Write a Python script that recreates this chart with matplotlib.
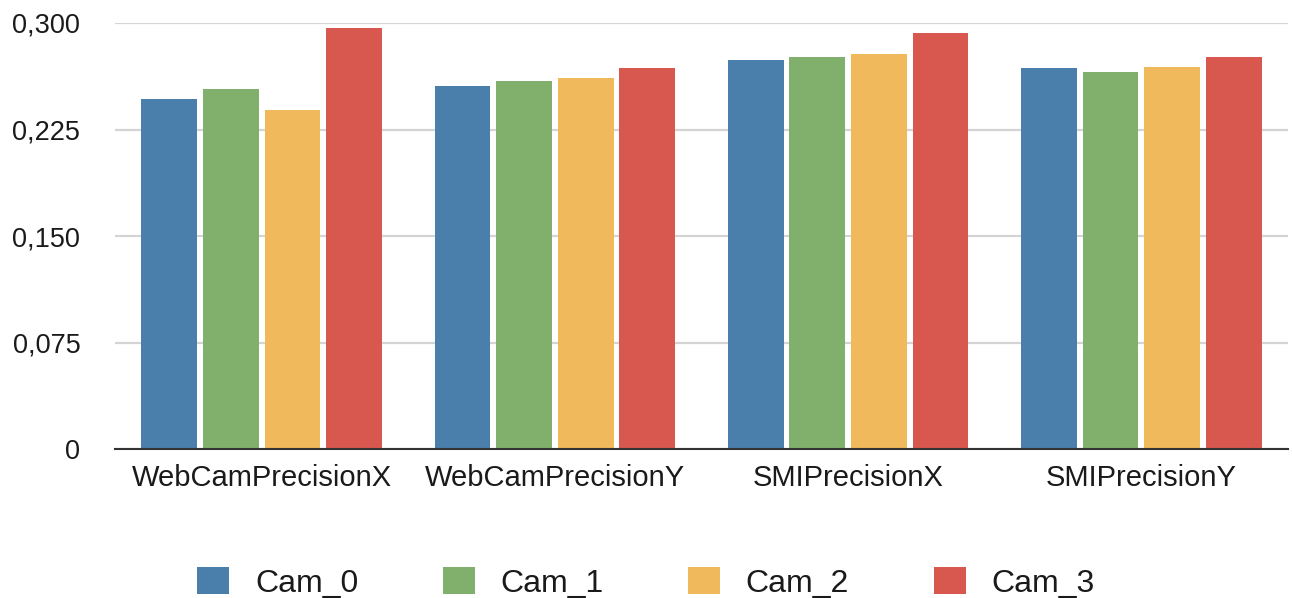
import matplotlib
matplotlib.use("Agg")
import matplotlib.pyplot as plt
from matplotlib.ticker import FixedLocator
import numpy as np

plt.rcParams['font.family'] = ['Liberation Sans', 'DejaVu Sans']

categories = ["WebCamPrecisionX", "WebCamPrecisionY", "SMIPrecisionX", "SMIPrecisionY"]
series_names = ["Cam_0", "Cam_1", "Cam_2", "Cam_3"]
cam_0 = [0.2463, 0.2557, 0.2742, 0.2686]
cam_1 = [0.2536, 0.2590, 0.2759, 0.2653]
cam_2 = [0.2384, 0.2611, 0.2780, 0.2688]
cam_3 = [0.2968, 0.2683, 0.2930, 0.2759]
y_ticks = [0, 0.075, 0.150, 0.225, 0.300]
y_tick_labels = ["0", "0,075", "0,150", "0,225", "0,300"]

colors = ["#4a7fac", "#80b06c", "#f0b95b", "#d8574e"]

fig = plt.figure(figsize=(12.92, 5.98), dpi=100)
ax = fig.add_axes([115 / 1292, 1 - 449 / 598, (1288 - 115) / 1292, (449 - 23) / 598])

x = np.arange(len(categories))
step = 0.21
width = 0.19
series = [cam_0, cam_1, cam_2, cam_3]
for i, (vals, name, c) in enumerate(zip(series, series_names, colors)):
    ax.bar(x + (i - 1.5) * step, vals, width, color=c, edgecolor="none",
           label=name, zorder=3)

ax.set_xlim(-0.5, len(categories) - 0.5)
ax.set_ylim(0, 0.300)
ax.yaxis.set_major_locator(FixedLocator(y_ticks))
ax.set_yticklabels(y_tick_labels)
ax.set_xticks(x)
ax.set_xticklabels(categories)
ax.tick_params(axis="both", length=0, colors="#1a1a1a")
ax.tick_params(axis="y", pad=25, labelsize=19.5)
ax.tick_params(axis="x", pad=11, labelsize=21)
ax.grid(axis="y", color="#d4d4d4", linewidth=1.6, zorder=0)
for side in ["top", "right", "left"]:
    ax.spines[side].set_visible(False)
ax.spines["bottom"].set_color("#333333")
ax.spines["bottom"].set_linewidth(1.5)
ax.spines["bottom"].set_zorder(4)

leg = fig.legend(loc="center", bbox_to_anchor=(0.5, 1 - 583 / 598), ncol=4,
                 frameon=False, fontsize=23, handlelength=1.0, handleheight=0.9,
                 columnspacing=2.65, handletextpad=0.8, borderpad=0)
for h in leg.legend_handles:
    h.set_edgecolor("none")
for t in leg.get_texts():
    t.set_color("#1a1a1a")

fig.savefig("out.png", dpi=100)
